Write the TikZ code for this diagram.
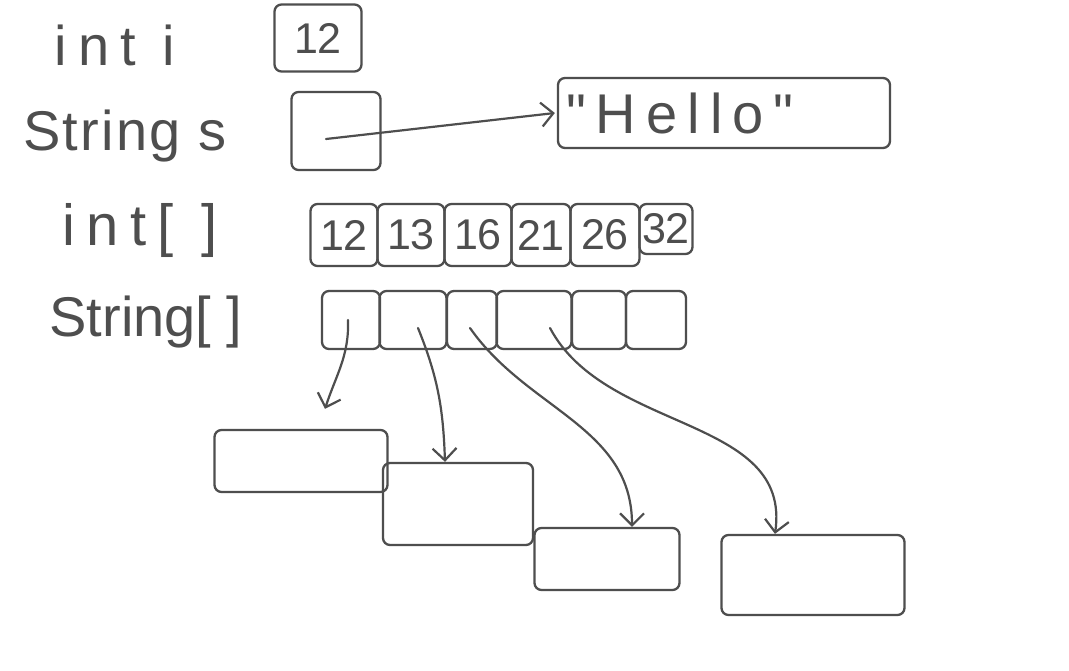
\documentclass[tikz,border=0pt]{standalone}
\usepackage{fontspec}
\setmainfont{Liberation Sans}
\usetikzlibrary{arrows.meta}
\definecolor{ink}{HTML}{4E4E4E}
\newfontfamily\handfont{Liberation Sans}
\begin{document}
\begin{tikzpicture}[x=1pt,y=-1pt,
  lbl/.style={text=ink,font=\handfont\fontsize{56}{60}\selectfont,inner sep=0pt},
  num/.style={text=ink,font=\fontsize{43}{46}\selectfont},
  cell/.style={draw=ink,line width=2.3pt,rounded corners=7pt,inner sep=0pt},
  link/.style={draw=ink,line width=2.2pt,line cap=round,-{Straight Barb[length=12pt,width=24pt,line width=2.2pt]}}
]
\useasboundingbox[fill=white] (0,0) rectangle (1069,670);

% labels
\node[lbl,font=\handfont\fontsize{56}{60}\selectfont\addfontfeature{LetterSpace=20}] (lint) at (115,45) {int i};
\node[lbl,anchor=base,font=\handfont\fontsize{56}{60}\selectfont\addfontfeature{LetterSpace=4}] (lstr) at (125,150) {String s};
\node[lbl,font=\handfont\fontsize{58}{60}\selectfont\addfontfeature{LetterSpace=20}] (lintarr) at (140,230) {int[ ]};
\node[lbl] (lstrarr) at (146,322) {String[ ]};

% scalar boxes
\node[cell,num,minimum width=87pt,minimum height=67pt] (i) at (318,38) {12};
\node[cell,minimum width=89pt,minimum height=78pt] (s) at (336,131) {};
\node[cell,minimum width=332pt,minimum height=70pt,text width=316pt,align=left,
      text=ink,font=\handfont\fontsize{56}{60}\selectfont\addfontfeature{LetterSpace=18}] (hello) at (724,113) {"Hello"};

% int array
\node[cell,num,minimum width=67pt,minimum height=62pt] (a1) at (344,235) {12};
\node[cell,num,minimum width=67pt,minimum height=62pt] (a2) at (411,235) {13};
\node[cell,num,minimum width=67pt,minimum height=62pt] (a3) at (478,235) {16};
\node[cell,num,minimum width=59pt,minimum height=62pt] (a4) at (541,235) {21};
\node[cell,num,minimum width=69pt,minimum height=62pt] (a5) at (605,235) {26};
\node[cell,num,minimum width=53pt,minimum height=50pt] (a6) at (666,229) {32};

% String array
\node[cell,minimum width=58pt,minimum height=58pt] (s1) at (351,320) {};
\node[cell,minimum width=67pt,minimum height=58pt] (s2) at (413,320) {};
\node[cell,minimum width=50pt,minimum height=58pt] (s3) at (472,320) {};
\node[cell,minimum width=75pt,minimum height=58pt] (s4) at (534,320) {};
\node[cell,minimum width=54pt,minimum height=58pt] (s5) at (599,320) {};
\node[cell,minimum width=60pt,minimum height=58pt] (s6) at (656,320) {};

% referenced objects
\node[cell,minimum width=173pt,minimum height=62pt] (A) at (301,461) {};
\node[cell,minimum width=150pt,minimum height=82pt] (B) at (458,504) {};
\node[cell,minimum width=145pt,minimum height=62pt] (C) at (607,559) {};
\node[cell,minimum width=183pt,minimum height=80pt] (D) at (813,575) {};

% connectors
\draw[link] ([xshift=-10pt,yshift=-8pt]s.center) -- ([xshift=-2pt]hello.west);
\draw[link] ([xshift=-3pt]s1.center) to[out=-88,in=72] ([xshift=24pt,yshift=20pt]A.north);
\draw[link] ([xshift=5pt,yshift=-8pt]s2.center) to[out=-68,in=92] ([xshift=-13pt]B.north);
\draw[link] ([xshift=-2pt,yshift=-8pt]s3.center) to[out=-55,in=90] ([xshift=25pt]C.north);
\draw[link] ([xshift=16pt,yshift=-8pt]s4.center) to[out=-62,in=82] ([xshift=-38pt]D.north);
\end{tikzpicture}
\end{document}
